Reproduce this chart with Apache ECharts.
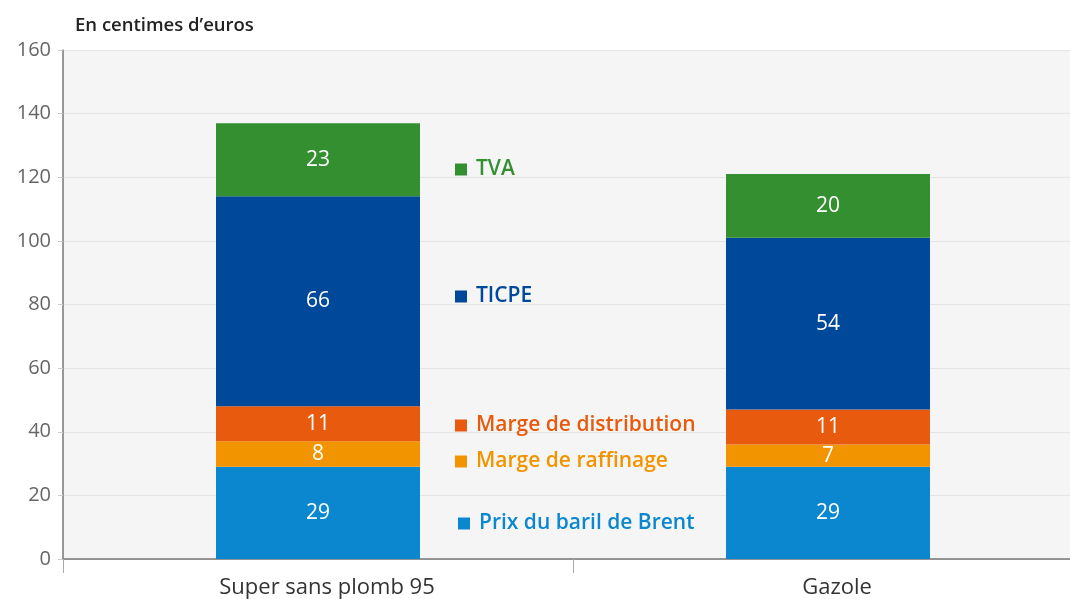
<!DOCTYPE html>
<html><head><meta charset="utf-8">
<script src="https://cdn.jsdelivr.net/npm/echarts@6/dist/echarts.min.js"></script>
<style>html,body{margin:0;padding:0;background:#fff}#c{width:1070px;height:599px}</style>
</head><body><div id="c"></div>
<script>
const categories = ['Super sans plomb 95', 'Gazole'];
const seriesNames = ['Prix du baril de Brent', 'Marge de raffinage', 'Marge de distribution', 'TICPE', 'TVA'];
const brent = [29, 29];
const raffinage = [8, 7];
const distribution = [11, 11];
const ticpe = [66, 54];
const tva = [23, 20];
const yTicks = [0, 20, 40, 60, 80, 100, 120, 140, 160];

const colors = ['#0a87cf', '#f29400', '#e85a0e', '#004899', '#348f30'];
const values = [brent, raffinage, distribution, ticpe, tva];
const legendTops = [513, 451, 415, 286, 159];
const legendLefts = [458, 455, 455, 455, 455];
const FONT = 'Open Sans';

const chart = echarts.init(document.getElementById('c'));
chart.setOption({
  animation: false,
  backgroundColor: '#ffffff',
  textStyle: { fontFamily: FONT },
  graphic: [{
    type: 'text', left: 75, top: 16,
    style: { text: 'En centimes d\u2019euros', fontFamily: FONT, fontSize: 18.5, fontWeight: 600, fill: '#222' }
  }],
  grid: { left: 63, top: 50, bottom: 40, right: -13, outerBoundsMode: 'none', show: true, backgroundColor: '#f5f5f5', borderWidth: 0 },
  legend: seriesNames.map((n, i) => ({
    data: [n], top: legendTops[i], left: legendLefts[i], padding: 0, icon: 'rect', itemWidth: 12, itemHeight: 12,
    itemGap: 10, textStyle: { color: colors[i], fontSize: 21, fontWeight: 600, fontFamily: FONT, padding: [0, 0, 0, 4] },
    selectedMode: false
  })),
  xAxis: {
    type: 'category', data: categories,
    axisLine: { lineStyle: { color: '#777', width: 1.5 } },
    axisTick: { show: true, length: 14, lineStyle: { color: '#aaa' } },
    axisLabel: { color: '#333', fontSize: 22, fontWeight: 500, margin: 18, fontFamily: FONT, padding: [0, 0, 0, 18] }
  },
  yAxis: {
    type: 'value', min: 0, max: 160, interval: 20,
    axisLine: { show: true, lineStyle: { color: '#777', width: 1.5 } },
    axisTick: { show: true, length: 5, lineStyle: { color: '#ccc' } },
    axisLabel: { color: '#666', fontSize: 20, margin: 12, fontFamily: FONT,
      formatter: v => yTicks.includes(v) ? String(v) : '' },
    splitLine: { lineStyle: { color: '#e4e4e4' } }
  },
  series: seriesNames.map((n, i) => ({
    name: n, type: 'bar', stack: 'total', barWidth: 204,
    data: values[i],
    itemStyle: { color: colors[i] },
    label: { show: true, position: 'inside', color: '#fff', fontSize: 21, fontWeight: 500, fontFamily: FONT }
  }))
});
</script></body></html>
